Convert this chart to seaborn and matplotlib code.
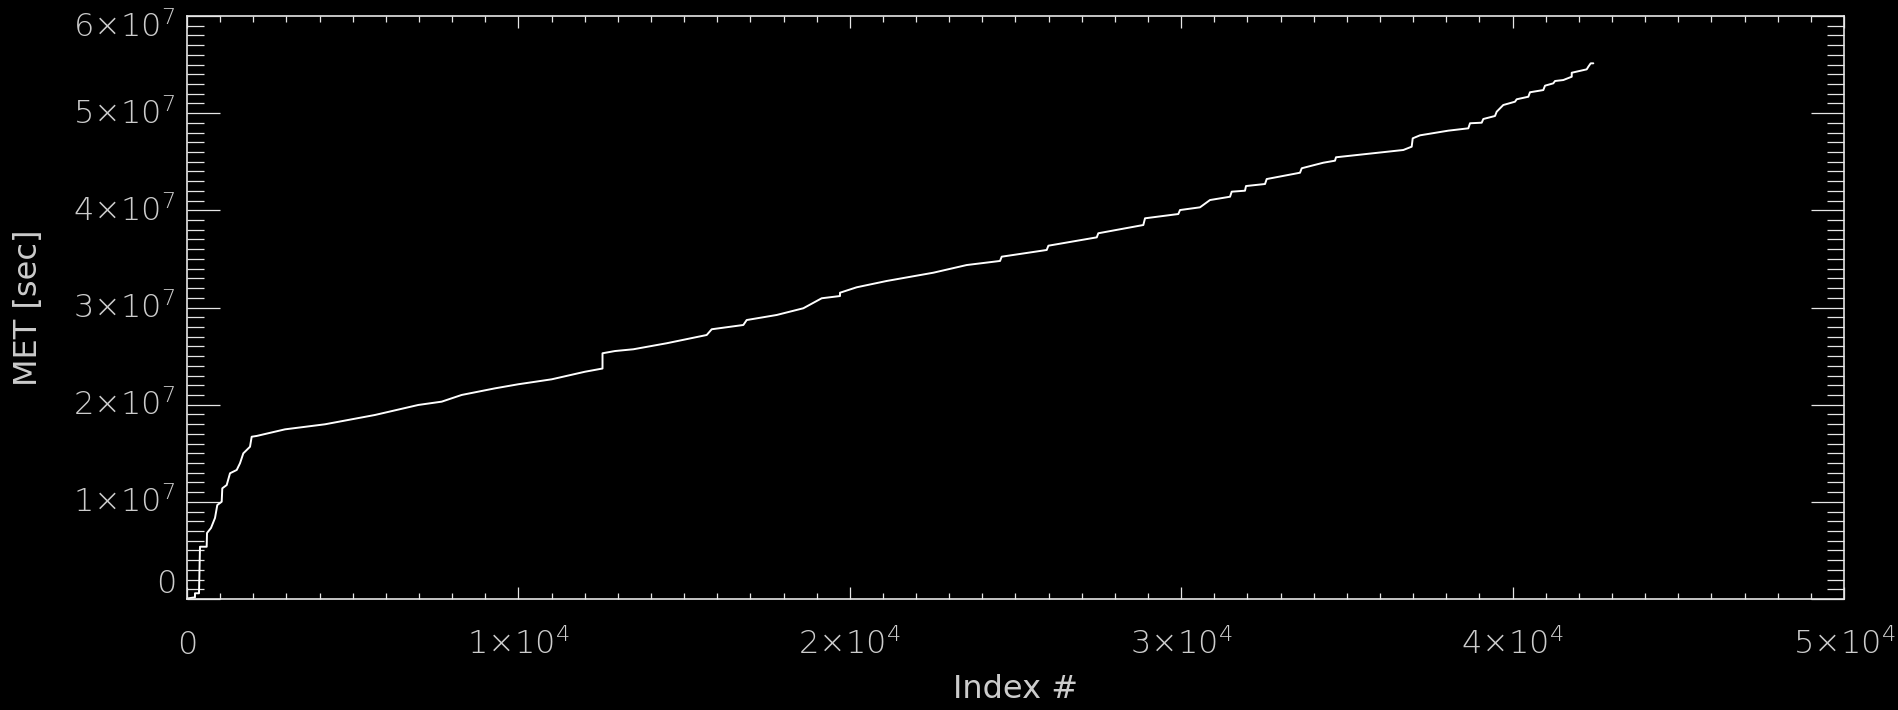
import matplotlib
matplotlib.use("Agg")
import matplotlib.pyplot as plt
from matplotlib.ticker import MultipleLocator
from matplotlib.transforms import ScaledTranslation
import seaborn as sns
import pandas as pd

# Cumulative mission elapsed time of each catalogued event, in event order
index_no = [0, 241, 241, 362, 392, 594, 604, 724, 845, 914, 1047, 1065, 1198,
            1298, 1500, 1599, 1699, 1901, 1952, 2103, 2957, 4164, 5673, 6980,
            7686, 8289, 9294, 9997, 11005, 12010, 12538, 12538, 12915, 13467,
            14475, 15682, 15833, 16787, 16889, 17794, 18597, 19152, 19704,
            19704, 20208, 21113, 22520, 23527, 24533, 24584, 25136, 25942,
            25992, 27452, 27499, 28857, 28908, 29913, 29964, 30567, 30869,
            31473, 31524, 31925, 31955, 32529, 32580, 33585, 33637, 34288,
            34641, 34671, 36702, 36955, 36986, 37206, 38060, 38664, 38715,
            39068, 39116, 39469, 39520, 39719, 40072, 40124, 40474, 40525,
            40927, 40978, 41228, 41280, 41530, 41784, 41784, 42236, 42285,
            42357, 42436]
met_sec = [0.05e6, 0.17e6, 0.59e6, 0.59e6, 5.38e6, 5.38e6, 6.79e6, 7.31e6,
           8.34e6, 9.67e6, 10.01e6, 11.39e6, 11.73e6, 12.94e6, 13.28e6,
           13.97e6, 14.99e6, 15.67e6, 16.70e6, 16.78e6, 17.46e6, 17.98e6,
           18.94e6, 19.97e6, 20.31e6, 21.00e6, 21.68e6, 22.10e6, 22.61e6,
           23.39e6, 23.72e6, 25.29e6, 25.52e6, 25.70e6, 26.32e6, 27.17e6,
           27.76e6, 28.20e6, 28.71e6, 29.23e6, 29.92e6, 30.95e6, 31.18e6,
           31.52e6, 32.08e6, 32.73e6, 33.58e6, 34.37e6, 34.79e6, 35.23e6,
           35.51e6, 35.92e6, 36.36e6, 37.22e6, 37.64e6, 38.49e6, 39.18e6,
           39.62e6, 40.03e6, 40.31e6, 41.06e6, 41.40e6, 41.92e6, 42.02e6,
           42.50e6, 42.71e6, 43.22e6, 43.87e6, 44.33e6, 44.90e6, 45.11e6,
           45.46e6, 46.21e6, 46.55e6, 47.41e6, 47.72e6, 48.20e6, 48.44e6,
           48.96e6, 49.02e6, 49.40e6, 49.71e6, 50.15e6, 50.84e6, 51.18e6,
           51.43e6, 51.69e6, 52.15e6, 52.38e6, 52.83e6, 53.07e6, 53.31e6,
           53.41e6, 53.75e6, 54.16e6, 54.51e6, 54.78e6, 55.13e6, 55.13e6]

x_ticks = [0, 1e4, 2e4, 3e4, 4e4, 5e4]
x_labels = [r"$\mathregular{0}$", r"$\mathregular{1{\times}10^{4}}$",
            r"$\mathregular{2{\times}10^{4}}$", r"$\mathregular{3{\times}10^{4}}$",
            r"$\mathregular{4{\times}10^{4}}$", r"$\mathregular{5{\times}10^{4}}$"]
y_ticks = [0, 1e7, 2e7, 3e7, 4e7, 5e7, 6e7]
y_labels = [r"$\mathregular{0}$", r"$\mathregular{1{\times}10^{7}}$",
            r"$\mathregular{2{\times}10^{7}}$", r"$\mathregular{3{\times}10^{7}}$",
            r"$\mathregular{4{\times}10^{7}}$", r"$\mathregular{5{\times}10^{7}}$",
            r"$\mathregular{6{\times}10^{7}}$"]

sns.set_style("dark", {"axes.facecolor": "black", "figure.facecolor": "black",
                       "axes.edgecolor": "#e6e6e6"})
plt.rcParams["font.family"] = ["DejaVu Sans"]
plt.rcParams["font.weight"] = "light"
plt.rcParams["mathtext.fontset"] = "custom"
plt.rcParams["mathtext.rm"] = "DejaVu Sans:light"

FG = "#cccccc"
FS = 23

fig = plt.figure(figsize=(18.99, 7.10), dpi=100, facecolor="black")
ax = fig.add_axes([187 / 1899, 1 - 599 / 710, (1844 - 187) / 1899, (599 - 16) / 710])
ax.set_facecolor("black")

df = pd.DataFrame({"index": index_no, "met": met_sec})
sns.lineplot(data=df, x="index", y="met", ax=ax, color="white", linewidth=1.4,
             estimator=None, sort=False)

ax.set_xlim(0, 5e4)
ax.set_ylim(0, 6e7)
ax.grid(False)
for sp in ax.spines.values():
    sp.set_visible(True)
    sp.set_color("#e6e6e6")
    sp.set_linewidth(1.2)

ax.set_xticks(x_ticks)
ax.set_yticks(y_ticks)
ax.xaxis.set_minor_locator(MultipleLocator(1000))
ax.yaxis.set_minor_locator(MultipleLocator(1e6))
ax.tick_params(which="both", direction="in", top=True, right=True,
               bottom=True, left=True, labelbottom=False, labelleft=False,
               color="#e6e6e6", width=0.9)
ax.tick_params(axis="x", which="major", length=8.6)
ax.tick_params(axis="x", which="minor", length=4.3)
ax.tick_params(axis="y", which="major", length=23.8)
ax.tick_params(axis="y", which="minor", length=12.2)

# tick labels drawn in the axis frame
xtr = ax.get_xaxis_transform()
for v, lab in zip(x_ticks, x_labels):
    ax.text(v, 0, lab, transform=xtr + ScaledTranslation(0, -55 / 100, fig.dpi_scale_trans),
            ha="center", va="baseline", fontsize=FS, color=FG, clip_on=False)

ytr = ax.get_yaxis_transform()
for i, (v, lab) in enumerate(zip(y_ticks, y_labels)):
    if i == 0:
        va, dy = "bottom", 0
    elif i == len(y_ticks) - 1:
        va, dy = "top", 6
    else:
        va, dy = "center", 0
    ax.text(0, v, lab, transform=ytr + ScaledTranslation(-12 / 100, dy / 100, fig.dpi_scale_trans),
            ha="right", va=va, fontsize=FS, color=FG, clip_on=False)

ax.set_xlabel("Index #", fontsize=FS, color=FG, labelpad=54)
ax.set_ylabel("MET [sec]", fontsize=FS, color=FG, labelpad=103)

fig.savefig("out.png", dpi=100, facecolor="black")
